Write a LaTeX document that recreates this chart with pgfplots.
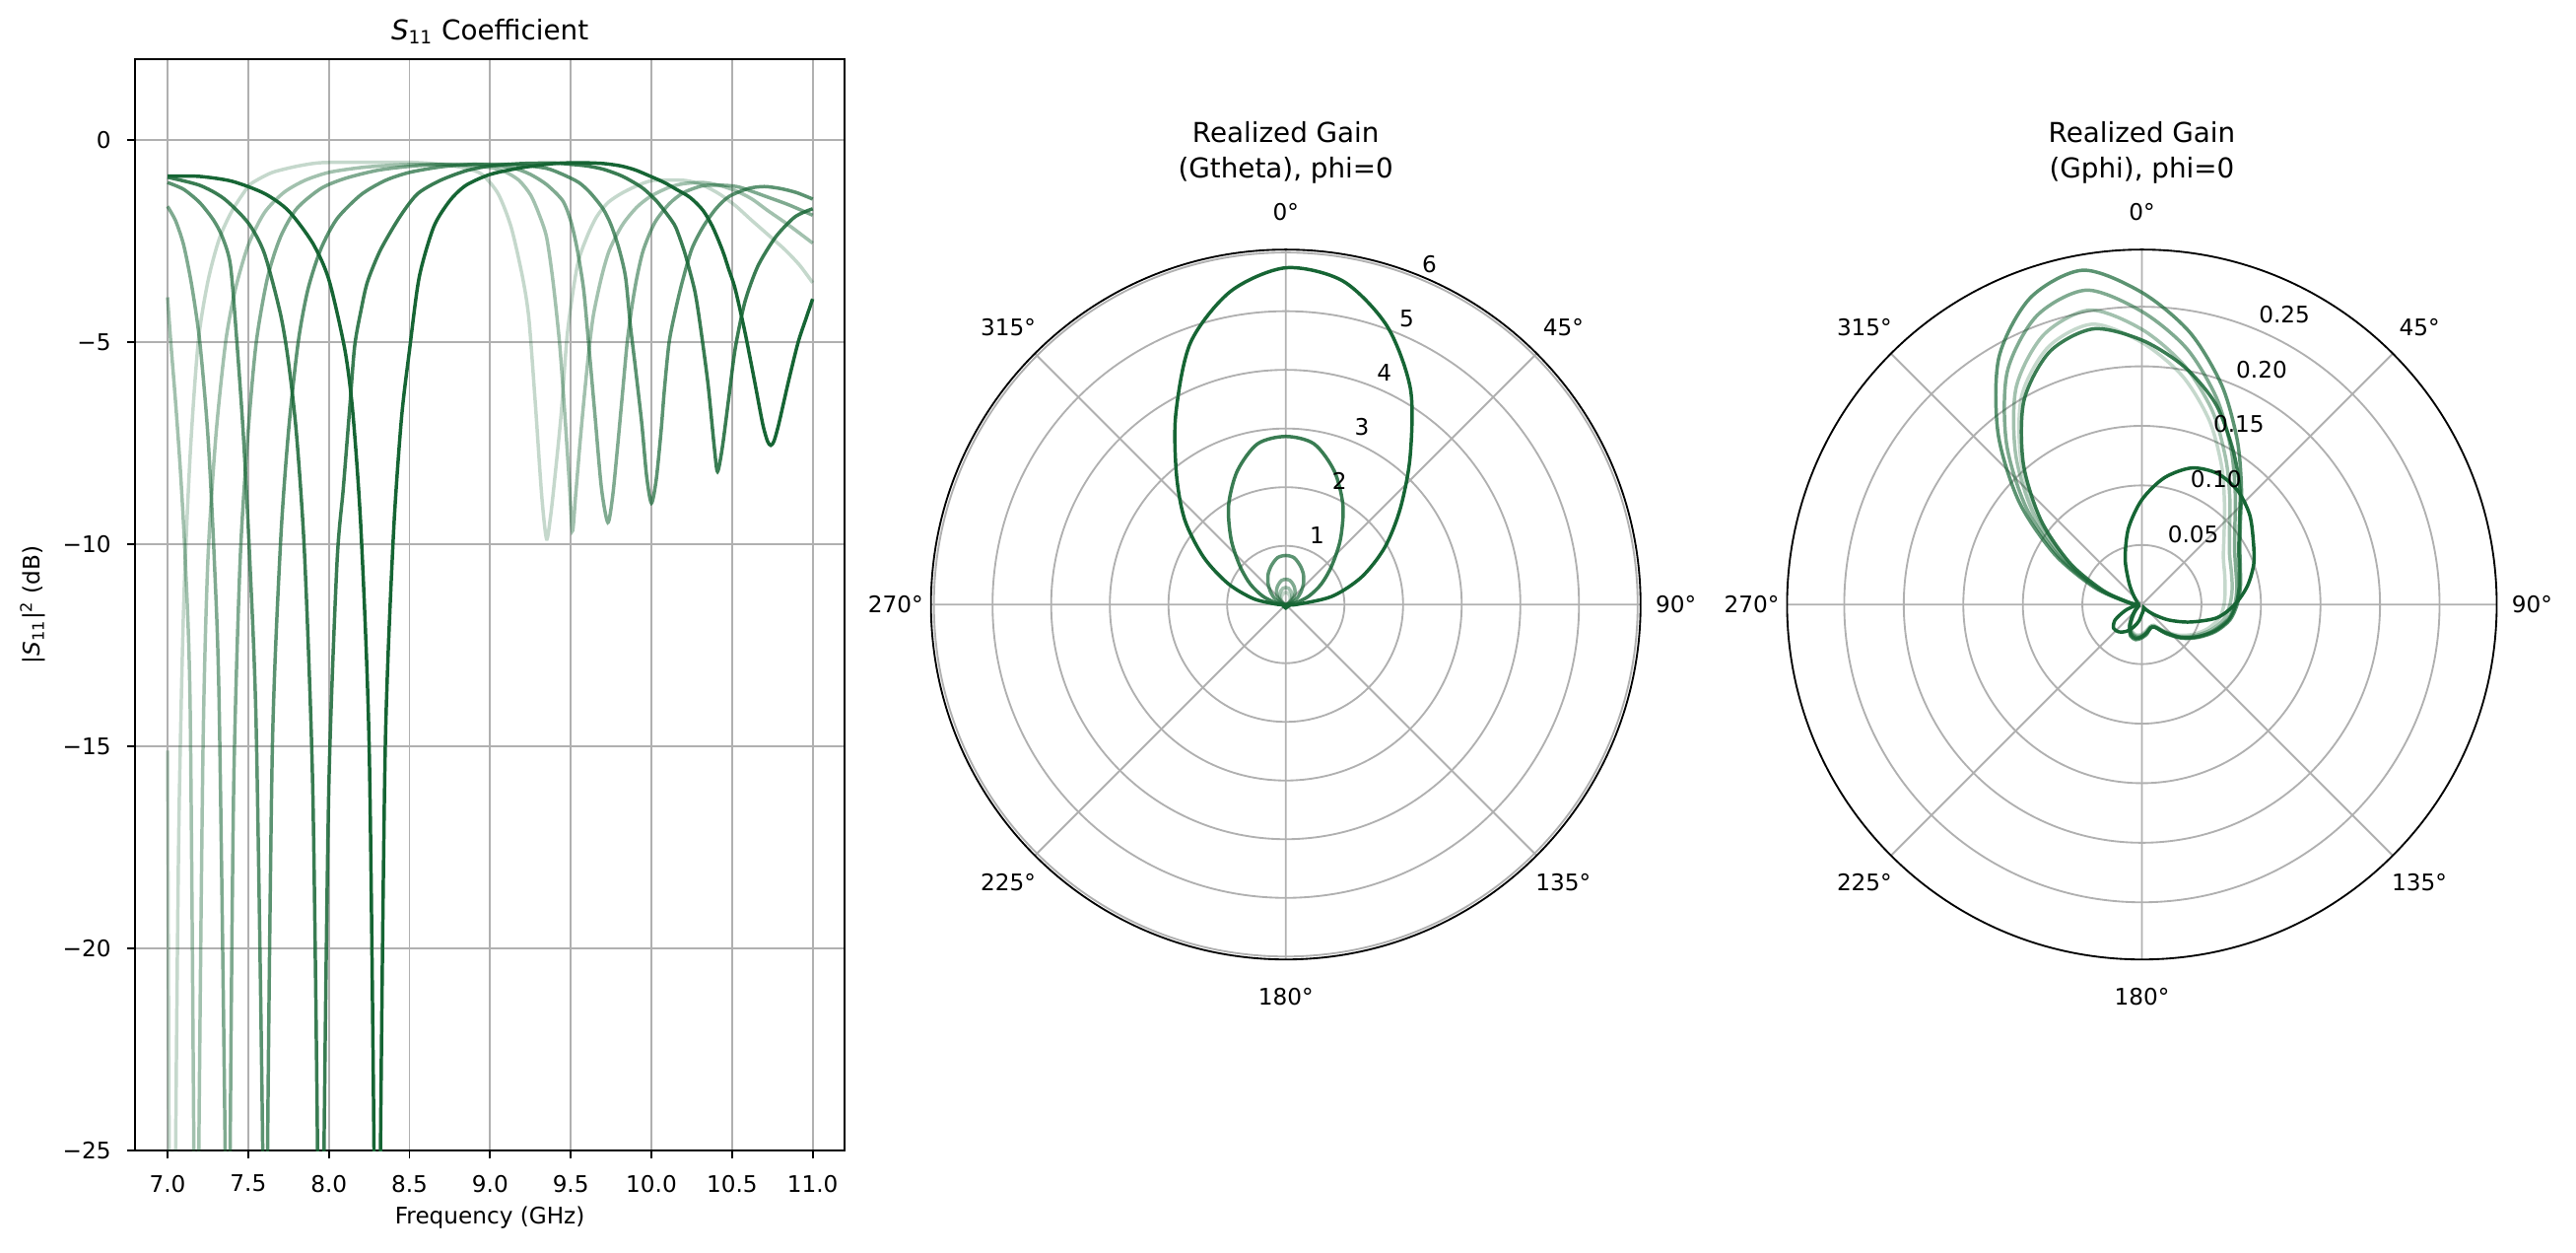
\documentclass[border=0pt]{standalone}
\usepackage{fontspec}
\setmainfont{DejaVu Sans}
\usepackage{pgfplots}
\pgfplotsset{compat=1.18}
\usepgfplotslibrary{polar}
\definecolor{g}{RGB}{22,101,52}
\definecolor{gridgray}{RGB}{176,176,176}
\begin{document}
\begin{tikzpicture}
\path[use as bounding box] (0,0) rectangle (1128.96pt,548.64pt);
% ---------------- left: S11 ----------------
\begin{axis}[
  at={(59.3pt,44.5pt)}, anchor=south west,
  scale only axis, width=311pt, height=478.2pt,
  xmin=6.8, xmax=11.2, ymin=-25, ymax=2,
  xtick={7,7.5,8,8.5,9,9.5,10,10.5,11},
  xticklabels={7.0,7.5,8.0,8.5,9.0,9.5,10.0,10.5,11.0},
  ytick={-25,-20,-15,-10,-5,0},
  yticklabels={−25,−20,−15,−10,−5,0},
  xtick pos=left, ytick pos=left,
  grid=major, major grid style={gridgray, line width=0.8pt},
  axis line style={black, line width=0.8pt},
  tick align=outside, major tick length=3.5pt,
  every tick/.style={black, line width=0.8pt},
  tick label style={font=\fontsize{10}{12}\selectfont},
  xticklabel style={inner sep=0pt, anchor=north, yshift=-7pt},
  yticklabel style={inner sep=0pt, anchor=east, xshift=-7pt},
  every axis plot/.append style={line width=1.5pt, mark=none, smooth, tension=0.45},
]
\addplot[g, draw opacity=0.25] coordinates {(7.0,-15.1) (7.01,-25) (7.02,-32) (7.03,-40) (7.04,-32) (7.05,-25) (7.07,-17) (7.10,-11.5) (7.14,-7.8) (7.19,-5.0) (7.25,-3.5) (7.32,-2.45) (7.40,-1.75) (7.50,-1.15) (7.55,-1.0) (7.65,-0.8) (7.80,-0.65) (7.95,-0.56) (8.2,-0.55) (8.5,-0.55) (8.7,-0.6) (8.85,-0.7) (8.95,-0.85) (9.05,-1.33) (9.13,-2.15) (9.2,-3.37) (9.24,-4.4) (9.28,-6.5) (9.32,-8.8) (9.35,-9.87) (9.375,-9.3) (9.40,-8.4) (9.44,-6.8) (9.48,-4.75) (9.54,-3.12) (9.6,-2.4) (9.66,-1.9) (9.73,-1.55) (9.81,-1.33) (9.9,-1.15) (10.01,-1.0) (10.21,-1.0) (10.32,-1.12) (10.42,-1.33) (10.52,-1.62) (10.62,-1.98) (10.72,-2.33) (10.83,-2.72) (10.92,-3.1) (11.0,-3.53)};
\addplot[g, draw opacity=0.4] coordinates {(7.0,-3.89) (7.02,-5.0) (7.05,-6.5) (7.08,-8.2) (7.11,-10.4) (7.14,-14.0) (7.163,-25) (7.17,-32) (7.178,-40) (7.186,-32) (7.194,-25) (7.22,-15.0) (7.25,-10.4) (7.30,-7.3) (7.36,-5.0) (7.42,-3.7) (7.50,-2.6) (7.60,-1.8) (7.72,-1.3) (7.85,-1.0) (8.0,-0.8) (8.2,-0.68) (8.4,-0.62) (8.6,-0.6) (8.8,-0.62) (9.0,-0.68) (9.1,-0.8) (9.18,-1.0) (9.25,-1.35) (9.3,-1.8) (9.35,-2.4) (9.39,-3.5) (9.43,-5.0) (9.46,-6.6) (9.49,-8.4) (9.51,-9.67) (9.53,-8.8) (9.555,-7.6) (9.58,-6.5) (9.61,-5.3) (9.64,-4.34) (9.69,-3.4) (9.74,-2.72) (9.82,-2.1) (9.91,-1.66) (10.0,-1.38) (10.11,-1.17) (10.2,-1.08) (10.32,-1.05) (10.42,-1.12) (10.52,-1.25) (10.62,-1.45) (10.72,-1.74) (10.85,-2.1) (11.0,-2.55)};
\addplot[g, draw opacity=0.55] coordinates {(7.0,-1.64) (7.05,-2.0) (7.10,-2.6) (7.15,-3.6) (7.20,-5.0) (7.25,-7.3) (7.29,-10.4) (7.32,-14.0) (7.357,-25) (7.365,-32) (7.372,-40) (7.38,-32) (7.388,-25) (7.41,-16.0) (7.45,-10.4) (7.50,-7.2) (7.55,-5.0) (7.62,-3.4) (7.70,-2.4) (7.80,-1.7) (7.95,-1.2) (8.1,-0.95) (8.3,-0.75) (8.5,-0.65) (8.7,-0.6) (8.9,-0.6) (9.0,-0.62) (9.15,-0.7) (9.25,-0.85) (9.35,-1.1) (9.45,-1.5) (9.5,-2.0) (9.54,-2.7) (9.58,-3.7) (9.61,-5.0) (9.65,-6.8) (9.69,-8.6) (9.73,-9.46) (9.76,-8.8) (9.79,-7.6) (9.82,-6.3) (9.85,-5.0) (9.88,-4.1) (9.91,-3.4) (9.95,-2.72) (10.02,-2.05) (10.11,-1.58) (10.2,-1.3) (10.32,-1.13) (10.45,-1.12) (10.55,-1.17) (10.72,-1.41) (10.85,-1.6) (11.0,-1.86)};
\addplot[g, draw opacity=0.7] coordinates {(7.0,-1.05) (7.10,-1.22) (7.20,-1.55) (7.285,-1.98) (7.34,-2.4) (7.39,-3.1) (7.43,-5.0) (7.47,-7.3) (7.51,-10.4) (7.55,-14.6) (7.59,-25) (7.597,-32) (7.605,-40) (7.613,-32) (7.62,-25) (7.65,-15.0) (7.70,-10.0) (7.75,-7.2) (7.81,-5.0) (7.87,-3.7) (7.95,-2.7) (8.05,-1.95) (8.2,-1.35) (8.35,-1.0) (8.5,-0.8) (8.7,-0.66) (8.9,-0.6) (9.1,-0.6) (9.2,-0.62) (9.35,-0.7) (9.45,-0.85) (9.55,-1.05) (9.62,-1.3) (9.7,-1.7) (9.75,-2.1) (9.8,-2.7) (9.84,-3.4) (9.87,-4.6) (9.9,-5.6) (9.94,-7.0) (9.97,-8.3) (10.0,-8.98) (10.03,-8.4) (10.06,-7.2) (10.08,-6.2) (10.11,-5.0) (10.15,-4.2) (10.19,-3.53) (10.25,-2.7) (10.32,-2.15) (10.40,-1.7) (10.48,-1.4) (10.6,-1.2) (10.7,-1.15) (10.8,-1.2) (10.9,-1.3) (11.0,-1.46)};
\addplot[g, draw opacity=0.85] coordinates {(7.0,-0.92) (7.2,-1.12) (7.35,-1.45) (7.5,-2.05) (7.6,-2.8) (7.7,-4.3) (7.75,-5.5) (7.8,-7.3) (7.85,-10.3) (7.90,-16.0) (7.93,-25) (7.94,-32) (7.95,-40) (7.96,-32) (7.97,-25) (8.00,-16.0) (8.05,-10.5) (8.09,-8.6) (8.13,-6.6) (8.16,-5.1) (8.20,-4.2) (8.24,-3.5) (8.32,-2.72) (8.44,-1.9) (8.55,-1.33) (8.69,-1.0) (8.85,-0.76) (9.0,-0.64) (9.2,-0.58) (9.4,-0.57) (9.5,-0.6) (9.6,-0.64) (9.7,-0.72) (9.8,-0.86) (9.87,-1.0) (9.95,-1.2) (10.03,-1.5) (10.1,-1.85) (10.15,-2.15) (10.2,-2.7) (10.23,-3.12) (10.27,-3.75) (10.30,-4.5) (10.35,-6.0) (10.39,-7.6) (10.41,-8.2) (10.44,-7.6) (10.48,-6.37) (10.52,-5.15) (10.58,-4.0) (10.66,-3.12) (10.77,-2.4) (10.89,-1.9) (11.0,-1.7)};
\addplot[g, draw opacity=1] coordinates {(7.0,-0.89) (7.2,-0.90) (7.4,-1.02) (7.6,-1.32) (7.75,-1.75) (7.9,-2.55) (8.0,-3.45) (8.1,-5.2) (8.15,-6.8) (8.2,-9.7) (8.25,-15.0) (8.28,-25) (8.29,-32) (8.30,-40) (8.31,-32) (8.32,-25) (8.35,-15.0) (8.40,-9.8) (8.45,-6.9) (8.50,-5.2) (8.56,-3.4) (8.65,-2.15) (8.75,-1.5) (8.85,-1.12) (9.0,-0.85) (9.2,-0.68) (9.4,-0.58) (9.55,-0.56) (9.7,-0.58) (9.81,-0.64) (9.9,-0.74) (9.99,-0.89) (10.08,-1.05) (10.15,-1.21) (10.24,-1.42) (10.32,-1.74) (10.38,-2.15) (10.44,-2.72) (10.48,-3.2) (10.52,-3.69) (10.58,-4.75) (10.64,-5.97) (10.69,-7.02) (10.72,-7.45) (10.74,-7.55) (10.76,-7.45) (10.79,-7.02) (10.85,-5.97) (10.91,-5.0) (10.96,-4.4) (11.0,-3.93)};
\end{axis}
% ---------------- middle: Gtheta ----------------
\begin{polaraxis}[
  at={(563.5pt,283.8pt)}, anchor=center,
  scale only axis, width=311pt, height=311pt,
  ymin=0, ymax=6.05,
  xtick={0,45,90,135,180,225,270,315},
  ytick={1,2,3,4,5,6},
  xticklabels={}, yticklabels={},
  grid=major, major grid style={gridgray, line width=0.8pt},
  separate axis lines,
  x axis line style={black, line width=0.8pt},
  y axis line style={draw=none},
  major tick length=0pt,
  clip=false,
  every axis plot/.append style={line width=1.5pt, mark=none, smooth, tension=0.5},
]
\addplot[g, draw opacity=0.25] coordinates {(180,0.002)(170,0.012)(160,0.032)(150,0.057)(140,0.084)(130,0.116)(120,0.148)(110,0.175)(100,0.2)(90,0.206)(80,0.2)(70,0.175)(60,0.148)(50,0.116)(40,0.084)(30,0.057)(20,0.032)(10,0.012)(0,0.002)(-90,0.002)(-180,0.002)};
\addplot[g, draw opacity=0.4] coordinates {(180,0.003)(170,0.017)(160,0.045)(150,0.08)(140,0.118)(130,0.163)(120,0.208)(110,0.246)(100,0.281)(90,0.29)(80,0.281)(70,0.246)(60,0.208)(50,0.163)(40,0.118)(30,0.08)(20,0.045)(10,0.017)(0,0.003)(-90,0.002)(-180,0.003)};
\addplot[g, draw opacity=0.55] coordinates {(180,0.005)(170,0.026)(160,0.067)(150,0.118)(140,0.175)(130,0.242)(120,0.308)(110,0.365)(100,0.416)(90,0.43)(80,0.416)(70,0.365)(60,0.308)(50,0.242)(40,0.175)(30,0.118)(20,0.067)(10,0.026)(0,0.005)(-90,0.003)(-180,0.005)};
\addplot[g, draw opacity=0.7] coordinates {(180,0.01)(170,0.05)(160,0.13)(150,0.23)(140,0.34)(130,0.47)(120,0.60)(110,0.71)(100,0.81)(90,0.836)(80,0.81)(70,0.71)(60,0.60)(50,0.47)(40,0.34)(30,0.23)(20,0.13)(10,0.05)(0,0.01)(-90,0.005)(-180,0.01)};
\addplot[g, draw opacity=0.85] coordinates {(180,0.04)(170,0.18)(160,0.42)(150,0.70)(140,1.02)(130,1.45)(120,1.95)(110,2.42)(100,2.78)(90,2.865)(80,2.78)(70,2.42)(60,1.95)(50,1.45)(40,1.02)(30,0.70)(20,0.42)(10,0.18)(0,0.04)(-90,0.02)(-180,0.04)};
\addplot[g, draw opacity=1] coordinates {(180,0.12)(170,0.55)(160,1.05)(150,1.62)(140,2.25)(130,2.90)(120,3.75)(110,4.75)(100,5.42)(90,5.74)(80,5.60)(70,5.05)(60,4.25)(50,3.30)(40,2.55)(30,1.95)(20,1.38)(10,0.80)(0,0.18)(-10,0.04)(-40,0.05)(-90,0.06)(-140,0.05)(-170,0.04)(-180,0.12)};
\node[anchor=base west, inner sep=0pt, xshift=0.5pt, yshift=3pt, font=\fontsize{10}{12}\selectfont] at (axis cs:67.5,1) {1};
\node[anchor=base west, inner sep=0pt, xshift=0.5pt, yshift=3pt, font=\fontsize{10}{12}\selectfont] at (axis cs:67.5,2) {2};
\node[anchor=base west, inner sep=0pt, xshift=0.5pt, yshift=3pt, font=\fontsize{10}{12}\selectfont] at (axis cs:67.5,3) {3};
\node[anchor=base west, inner sep=0pt, xshift=0.5pt, yshift=3pt, font=\fontsize{10}{12}\selectfont] at (axis cs:67.5,4) {4};
\node[anchor=base west, inner sep=0pt, xshift=0.5pt, yshift=3pt, font=\fontsize{10}{12}\selectfont] at (axis cs:67.5,5) {5};
\node[anchor=base west, inner sep=0pt, xshift=0.5pt, yshift=3pt, font=\fontsize{10}{12}\selectfont] at (axis cs:67.5,6) {6};
\node[font=\fontsize{10}{12}\selectfont, yshift=16.5pt] at (axis cs:90,6.05) {0°};
\node[font=\fontsize{10}{12}\selectfont, xshift=11.67pt, yshift=11.67pt] at (axis cs:45,6.05) {45°};
\node[font=\fontsize{10}{12}\selectfont, xshift=15.5pt] at (axis cs:0,6.05) {90°};
\node[font=\fontsize{10}{12}\selectfont, xshift=11.67pt, yshift=-11.67pt] at (axis cs:315,6.05) {135°};
\node[font=\fontsize{10}{12}\selectfont, yshift=-16.5pt] at (axis cs:270,6.05) {180°};
\node[font=\fontsize{10}{12}\selectfont, xshift=-11.67pt, yshift=-11.67pt] at (axis cs:225,6.05) {225°};
\node[font=\fontsize{10}{12}\selectfont, xshift=-15.5pt] at (axis cs:180,6.05) {270°};
\node[font=\fontsize{10}{12}\selectfont, xshift=-11.67pt, yshift=11.67pt] at (axis cs:135,6.05) {315°};
\end{polaraxis}
% ---------------- right: Gphi ----------------
\begin{polaraxis}[
  at={(938.7pt,283.8pt)}, anchor=center,
  scale only axis, width=311pt, height=311pt,
  ymin=0, ymax=0.298,
  xtick={0,45,90,135,180,225,270,315},
  ytick={0.05,0.1,0.15,0.2,0.25},
  xticklabels={}, yticklabels={},
  grid=major, major grid style={gridgray, line width=0.8pt},
  separate axis lines,
  x axis line style={black, line width=0.8pt},
  y axis line style={draw=none},
  major tick length=0pt,
  clip=false,
  every axis plot/.append style={line width=1.5pt, mark=none, smooth, tension=0.5},
]
\addplot[g, draw opacity=0.25] coordinates {(180,0.004)(170,0.012)(160,0.036)(150,0.071)(140,0.113)(130,0.158)(120,0.202)(110,0.230)(100,0.239)(90,0.220)(80,0.195)(70,0.165)(60,0.134)(50,0.108)(40,0.090)(30,0.079)(20,0.074)(10,0.071)(0,0.069)(-10,0.066)(-20,0.059)(-30,0.050)(-40,0.040)(-50,0.029)(-60,0.020)(-70,0.020)(-80,0.022)(-90,0.025)(-100,0.026)(-110,0.024)(-120,0.018)(-130,0.010)(-140,0.006)(-150,0.004)(-160,0.003)(-170,0.003)(-180,0.004)};
\addplot[g, draw opacity=0.4] coordinates {(180,0.004)(170,0.012)(160,0.038)(150,0.075)(140,0.119)(130,0.165)(120,0.211)(110,0.241)(100,0.251)(90,0.231)(80,0.204)(70,0.173)(60,0.141)(50,0.115)(40,0.096)(30,0.085)(20,0.080)(10,0.077)(0,0.074)(-10,0.070)(-20,0.062)(-30,0.052)(-40,0.042)(-50,0.030)(-60,0.021)(-70,0.020)(-80,0.023)(-90,0.026)(-100,0.027)(-110,0.025)(-120,0.019)(-130,0.011)(-140,0.006)(-150,0.004)(-160,0.003)(-170,0.003)(-180,0.004)};
\addplot[g, draw opacity=0.55] coordinates {(180,0.005)(170,0.013)(160,0.040)(150,0.080)(140,0.127)(130,0.177)(120,0.226)(110,0.258)(100,0.268)(90,0.246)(80,0.218)(70,0.184)(60,0.150)(50,0.122)(40,0.102)(30,0.090)(20,0.084)(10,0.081)(0,0.078)(-10,0.073)(-20,0.064)(-30,0.054)(-40,0.043)(-50,0.031)(-60,0.022)(-70,0.021)(-80,0.024)(-90,0.027)(-100,0.028)(-110,0.026)(-120,0.020)(-130,0.012)(-140,0.007)(-150,0.004)(-160,0.003)(-170,0.003)(-180,0.005)};
\addplot[g, draw opacity=0.7] coordinates {(180,0.005)(170,0.014)(160,0.043)(150,0.085)(140,0.135)(130,0.188)(120,0.240)(110,0.274)(100,0.285)(90,0.262)(80,0.232)(70,0.196)(60,0.160)(50,0.130)(40,0.108)(30,0.095)(20,0.088)(10,0.084)(0,0.080)(-10,0.075)(-20,0.066)(-30,0.055)(-40,0.044)(-50,0.032)(-60,0.022)(-70,0.021)(-80,0.025)(-90,0.028)(-100,0.030)(-110,0.028)(-120,0.021)(-130,0.013)(-140,0.007)(-150,0.004)(-160,0.003)(-170,0.003)(-180,0.005)};
\addplot[g, draw opacity=0.85] coordinates {(180,0.004)(170,0.012)(160,0.035)(150,0.070)(140,0.111)(130,0.155)(120,0.198)(110,0.226)(100,0.235)(90,0.222)(80,0.203)(70,0.180)(60,0.152)(50,0.128)(40,0.107)(30,0.094)(20,0.087)(10,0.083)(0,0.079)(-10,0.074)(-20,0.065)(-30,0.054)(-40,0.043)(-50,0.031)(-60,0.022)(-70,0.021)(-80,0.024)(-90,0.027)(-100,0.029)(-110,0.027)(-120,0.020)(-130,0.012)(-140,0.007)(-150,0.004)(-160,0.003)(-170,0.003)(-180,0.004)};
\addplot[g, draw opacity=1] coordinates {(180,0.002)(170,0.003)(160,0.004)(150,0.005)(140,0.007)(130,0.012)(120,0.022)(110,0.041)(100,0.065)(90,0.088)(80,0.108)(70,0.122)(60,0.127)(50,0.125)(40,0.118)(30,0.108)(20,0.100)(10,0.090)(0,0.078)(-10,0.064)(-20,0.043)(-30,0.026)(-40,0.013)(-50,0.006)(-60,0.003)(-70,0.004)(-80,0.006)(-90,0.008)(-100,0.014)(-110,0.020)(-120,0.026)(-130,0.030)(-140,0.031)(-150,0.026)(-160,0.015)(-170,0.006)(-180,0.002)};
\node[anchor=base west, inner sep=0pt, xshift=1.2pt, yshift=3pt, font=\fontsize{10}{12}\selectfont] at (axis cs:67.5,0.05) {0.05};
\node[anchor=base west, inner sep=0pt, xshift=1.2pt, yshift=3pt, font=\fontsize{10}{12}\selectfont] at (axis cs:67.5,0.10) {0.10};
\node[anchor=base west, inner sep=0pt, xshift=1.2pt, yshift=3pt, font=\fontsize{10}{12}\selectfont] at (axis cs:67.5,0.15) {0.15};
\node[anchor=base west, inner sep=0pt, xshift=1.2pt, yshift=3pt, font=\fontsize{10}{12}\selectfont] at (axis cs:67.5,0.20) {0.20};
\node[anchor=base west, inner sep=0pt, xshift=1.2pt, yshift=3pt, font=\fontsize{10}{12}\selectfont] at (axis cs:67.5,0.25) {0.25};
\node[font=\fontsize{10}{12}\selectfont, yshift=16.5pt] at (axis cs:90,0.298) {0°};
\node[font=\fontsize{10}{12}\selectfont, xshift=11.67pt, yshift=11.67pt] at (axis cs:45,0.298) {45°};
\node[font=\fontsize{10}{12}\selectfont, xshift=15.5pt] at (axis cs:0,0.298) {90°};
\node[font=\fontsize{10}{12}\selectfont, xshift=11.67pt, yshift=-11.67pt] at (axis cs:315,0.298) {135°};
\node[font=\fontsize{10}{12}\selectfont, yshift=-16.5pt] at (axis cs:270,0.298) {180°};
\node[font=\fontsize{10}{12}\selectfont, xshift=-11.67pt, yshift=-11.67pt] at (axis cs:225,0.298) {225°};
\node[font=\fontsize{10}{12}\selectfont, xshift=-15.5pt] at (axis cs:180,0.298) {270°};
\node[font=\fontsize{10}{12}\selectfont, xshift=-11.67pt, yshift=11.67pt] at (axis cs:135,0.298) {315°};
\end{polaraxis}
% ---------------- titles and labels ----------------
\node[font=\fontsize{12}{14}\selectfont] at (214.7pt,535pt) {\textit{S}\textsubscript{11} Coefficient};
\node[font=\fontsize{10}{12}\selectfont] at (214.7pt,15.1pt) {Frequency (GHz)};
\node[font=\fontsize{10}{12}\selectfont, rotate=90] at (14.4pt,283.7pt) {|\textit{S}\textsubscript{11}|\textsuperscript{2} (dB)};
\node[font=\fontsize{12}{15.8}\selectfont, align=center] at (563.5pt,481.7pt) {Realized Gain\\(Gtheta), phi=0};
\node[font=\fontsize{12}{15.8}\selectfont, align=center] at (938.7pt,481.7pt) {Realized Gain\\(Gphi), phi=0};
\end{tikzpicture}
\end{document}
